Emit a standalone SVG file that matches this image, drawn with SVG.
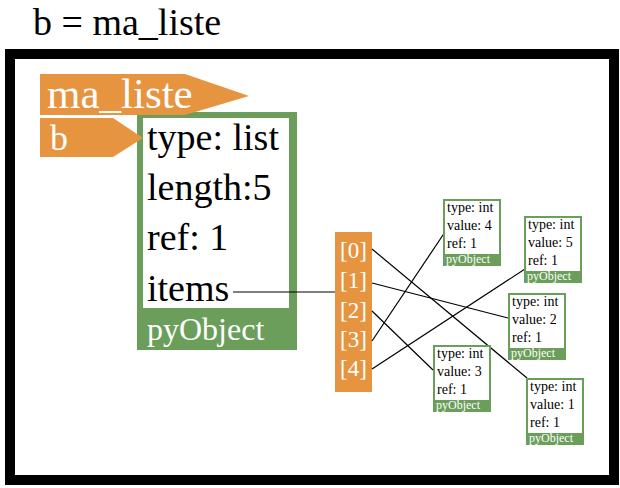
<svg xmlns="http://www.w3.org/2000/svg" width="620" height="488" viewBox="0 0 620 488">
<style>
text{font-family:"Liberation Serif","Times New Roman",serif}
.lbl{fill:#E69440}
.wt{fill:#ffffff}
.big{font-size:38px;fill:#000}
.idx{font-size:23px;fill:#fff;text-anchor:middle}
.sm{font-size:14px;fill:#000}
.ft{font-size:12px;fill:#fff}
.box{fill:#fff;stroke:#6A9E5A;stroke-width:2}
.foot{fill:#6A9E5A}
.con{stroke:#000;stroke-width:1.2;fill:none}
</style>
<rect width="620" height="488" fill="#fff"/>
<text x="33" y="35" font-size="38" fill="#000">b = ma_liste</text>
<rect id="frame" x="10" y="54" width="604" height="426" fill="#fff" stroke="#000" stroke-width="10"/>

<g id="obj_list">
  <rect x="137" y="112" width="160" height="238" class="foot"/>
  <rect x="143" y="118" width="146" height="190" fill="#fff"/>
  <text x="147" y="150" class="big">type: list</text>
  <text x="147" y="200" class="big">length:5</text>
  <text x="147" y="250" class="big">ref: 1</text>
  <text x="147" y="301" class="big">items</text>
  <text x="147" y="340" font-size="32" class="wt">pyObject</text>
</g>

<g id="label_ma_liste">
  <polygon class="lbl" points="40,74 185,74 249,96 185,115 40,115"/>
  <text x="47" y="108" font-size="43" class="wt">ma_liste</text>
</g>
<g id="label_b">
  <polygon class="lbl" points="40,118 113,118 143,138 113,157 40,157"/>
  <text x="50" y="150" font-size="36" class="wt">b</text>
</g>

<g id="items_array">
  <rect x="335" y="232" width="37" height="160" class="lbl"/>
  <text x="353.5" y="258" class="idx">[0]</text>
  <text x="353.5" y="288" class="idx">[1]</text>
  <text x="353.5" y="318" class="idx">[2]</text>
  <text x="353.5" y="347" class="idx">[3]</text>
  <text x="353.5" y="376" class="idx">[4]</text>
</g>

<g id="connectors">
  <line class="con" x1="233" y1="292" x2="335" y2="292"/>
  <line class="con" x1="372" y1="249" x2="527" y2="378"/>
  <line class="con" x1="372" y1="283" x2="508" y2="318"/>
  <line class="con" x1="372" y1="311" x2="433" y2="370"/>
  <line class="con" x1="372" y1="341" x2="445" y2="232"/>
  <line class="con" x1="372" y1="369" x2="525" y2="269"/>
</g>

<g id="int4" transform="translate(443,199)">
  <rect x="1" y="1" width="56" height="65" class="box"/>
  <rect x="0" y="55" width="58" height="12" class="foot"/>
  <text x="4" y="13" class="sm">type: int</text>
  <text x="4" y="31" class="sm">value: 4</text>
  <text x="4" y="49" class="sm">ref: 1</text>
  <text x="3" y="64" class="ft">pyObject</text>
</g>
<g id="int5" transform="translate(524,216)">
  <rect x="1" y="1" width="56" height="65" class="box"/>
  <rect x="0" y="55" width="58" height="12" class="foot"/>
  <text x="4" y="13" class="sm">type: int</text>
  <text x="4" y="31" class="sm">value: 5</text>
  <text x="4" y="49" class="sm">ref: 1</text>
  <text x="3" y="64" class="ft">pyObject</text>
</g>
<g id="int2" transform="translate(508,293)">
  <rect x="1" y="1" width="56" height="65" class="box"/>
  <rect x="0" y="55" width="58" height="12" class="foot"/>
  <text x="4" y="13" class="sm">type: int</text>
  <text x="4" y="31" class="sm">value: 2</text>
  <text x="4" y="49" class="sm">ref: 1</text>
  <text x="3" y="64" class="ft">pyObject</text>
</g>
<g id="int3" transform="translate(433,345)">
  <rect x="1" y="1" width="56" height="65" class="box"/>
  <rect x="0" y="55" width="58" height="12" class="foot"/>
  <text x="4" y="13" class="sm">type: int</text>
  <text x="4" y="31" class="sm">value: 3</text>
  <text x="4" y="49" class="sm">ref: 1</text>
  <text x="3" y="64" class="ft">pyObject</text>
</g>
<g id="int1" transform="translate(526,378)">
  <rect x="1" y="1" width="56" height="65" class="box"/>
  <rect x="0" y="55" width="58" height="12" class="foot"/>
  <text x="4" y="13" class="sm">type: int</text>
  <text x="4" y="31" class="sm">value: 1</text>
  <text x="4" y="49" class="sm">ref: 1</text>
  <text x="3" y="64" class="ft">pyObject</text>
</g>
</svg>
